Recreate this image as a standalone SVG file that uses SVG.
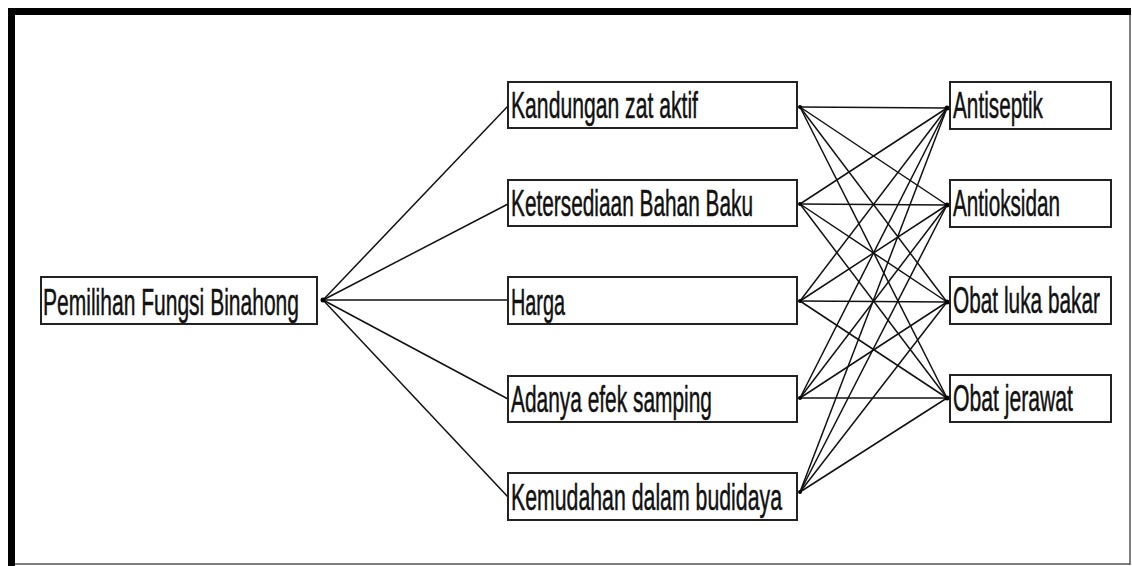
<svg xmlns="http://www.w3.org/2000/svg" width="1132" height="566" viewBox="0 0 1132 566">
<style>
.box{fill:#fff;stroke:#222;stroke-width:2}
.lbl{font-family:"Liberation Sans",Arial,sans-serif;font-size:37px;fill:#111;stroke:#111;stroke-width:0.5}
.ln{stroke:#111;stroke-width:1.5;fill:none}
.dot{fill:#000}
</style>
<rect x="0" y="0" width="1132" height="566" fill="#fff"/>
<g id="frame">
<rect x="8" y="8" width="1123" height="7" fill="#000"/>
<rect x="8" y="8" width="7" height="558" fill="#000"/>
<line x1="1130" y1="15" x2="1130" y2="565" stroke="#555" stroke-width="1.5"/>
<line x1="15" y1="564" x2="1130" y2="564" stroke="#555" stroke-width="1.5"/>
</g>
<g id="connectors">
<line class="ln" x1="323" y1="300" x2="508" y2="106"/>
<line class="ln" x1="323" y1="300" x2="508" y2="204"/>
<line class="ln" x1="323" y1="300" x2="508" y2="300"/>
<line class="ln" x1="323" y1="300" x2="508" y2="399"/>
<line class="ln" x1="323" y1="300" x2="508" y2="497"/>
<line class="ln" x1="800" y1="107" x2="947" y2="108"/>
<line class="ln" x1="800" y1="107" x2="947" y2="205"/>
<line class="ln" x1="800" y1="107" x2="947" y2="302"/>
<line class="ln" x1="800" y1="107" x2="947" y2="398"/>
<line class="ln" x1="800" y1="204" x2="947" y2="108"/>
<line class="ln" x1="800" y1="204" x2="947" y2="205"/>
<line class="ln" x1="800" y1="204" x2="947" y2="302"/>
<line class="ln" x1="800" y1="204" x2="947" y2="398"/>
<line class="ln" x1="800" y1="301" x2="947" y2="108"/>
<line class="ln" x1="800" y1="301" x2="947" y2="205"/>
<line class="ln" x1="800" y1="301" x2="947" y2="302"/>
<line class="ln" x1="800" y1="301" x2="947" y2="398"/>
<line class="ln" x1="800" y1="398" x2="947" y2="108"/>
<line class="ln" x1="800" y1="398" x2="947" y2="205"/>
<line class="ln" x1="800" y1="398" x2="947" y2="302"/>
<line class="ln" x1="800" y1="398" x2="947" y2="398"/>
<line class="ln" x1="800" y1="492" x2="947" y2="108"/>
<line class="ln" x1="800" y1="492" x2="947" y2="205"/>
<line class="ln" x1="800" y1="492" x2="947" y2="302"/>
<line class="ln" x1="800" y1="492" x2="947" y2="398"/>
<circle class="dot" cx="323" cy="300" r="2.5"/>
<circle class="dot" cx="800" cy="107" r="2"/>
<circle class="dot" cx="800" cy="204" r="2"/>
<circle class="dot" cx="800" cy="301" r="2"/>
<circle class="dot" cx="800" cy="398" r="2"/>
<circle class="dot" cx="800" cy="492" r="2"/>
<circle class="dot" cx="947" cy="108" r="2.5"/>
<circle class="dot" cx="947" cy="205" r="2.5"/>
<circle class="dot" cx="947" cy="302" r="2.5"/>
<circle class="dot" cx="947" cy="398" r="2.5"/>
</g>
<g id="n-root"><rect class="box" x="41" y="277" width="276" height="47"/><text class="lbl" x="43" y="315" textLength="256" lengthAdjust="spacingAndGlyphs">Pemilihan Fungsi Binahong</text></g>
<g id="n-kandungan"><rect class="box" x="508" y="82" width="289" height="46"/><text class="lbl" x="511" y="118" textLength="187" lengthAdjust="spacingAndGlyphs">Kandungan zat aktif</text></g>
<g id="n-ketersediaan"><rect class="box" x="508" y="180" width="289" height="46"/><text class="lbl" x="511" y="216" textLength="242" lengthAdjust="spacingAndGlyphs">Ketersediaan Bahan Baku</text></g>
<g id="n-harga"><rect class="box" x="508" y="277" width="289" height="47"/><text class="lbl" x="511" y="315" textLength="54" lengthAdjust="spacingAndGlyphs">Harga</text></g>
<g id="n-adanya"><rect class="box" x="508" y="376" width="289" height="46"/><text class="lbl" x="511" y="412" textLength="201" lengthAdjust="spacingAndGlyphs">Adanya efek samping</text></g>
<g id="n-kemudahan"><rect class="box" x="508" y="473" width="289" height="47"/><text class="lbl" x="511" y="510" textLength="271" lengthAdjust="spacingAndGlyphs">Kemudahan dalam budidaya</text></g>
<g id="n-antiseptik"><rect class="box" x="950" y="82" width="161" height="47"/><text class="lbl" x="953" y="118" textLength="90" lengthAdjust="spacingAndGlyphs">Antiseptik</text></g>
<g id="n-antioksidan"><rect class="box" x="950" y="180" width="161" height="47"/><text class="lbl" x="953" y="216" textLength="107" lengthAdjust="spacingAndGlyphs">Antioksidan</text></g>
<g id="n-lukabakar"><rect class="box" x="950" y="277" width="161" height="47"/><text class="lbl" x="953" y="313" textLength="147" lengthAdjust="spacingAndGlyphs">Obat luka bakar</text></g>
<g id="n-jerawat"><rect class="box" x="950" y="375" width="161" height="47"/><text class="lbl" x="953" y="411" textLength="120" lengthAdjust="spacingAndGlyphs">Obat jerawat</text></g>
</svg>
